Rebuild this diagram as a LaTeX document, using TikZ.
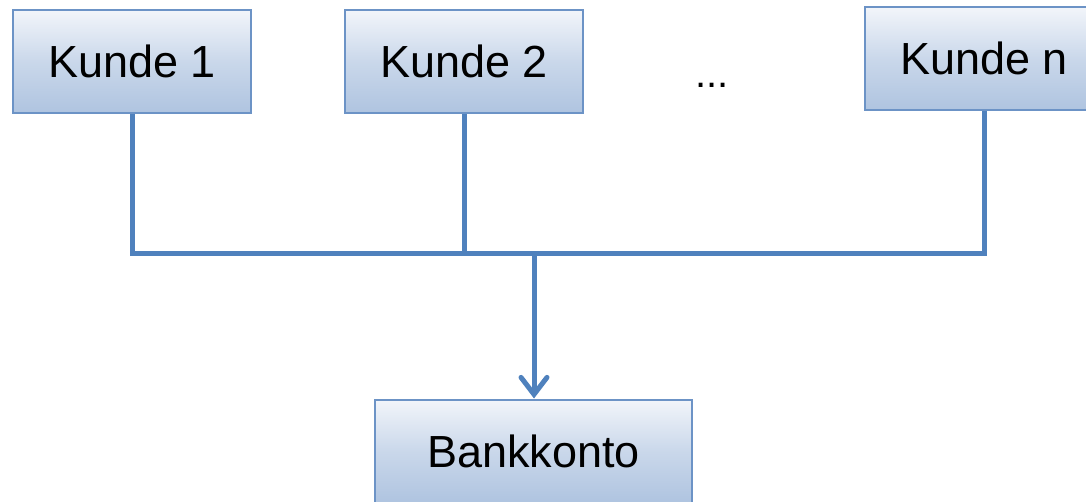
\documentclass[tikz,border=0pt]{standalone}
\usepackage{fontspec}
\setmainfont{Liberation Sans}
\usetikzlibrary{arrows.meta}
\definecolor{linkblue}{HTML}{4F81BD}
\definecolor{edgeblue}{HTML}{6C93C6}
\definecolor{boxtop}{HTML}{F2F5FA}
\definecolor{boxbottom}{HTML}{AFC4E0}
\tikzset{
  box/.style={draw=edgeblue, line width=2pt, minimum width=238pt, minimum height=103pt,
    top color=boxtop, bottom color=boxbottom, middle color=boxbottom!60!boxtop,
    shading angle=0, font=\fontsize{45}{54}\selectfont, inner sep=0pt},
  link/.style={draw=linkblue, line width=5pt},
}
\begin{document}
\begin{tikzpicture}[x=1pt,y=-1pt]
\useasboundingbox (0,0) rectangle (1086,501);
\clip (0,0) rectangle (1086,501);
\node[box] (k1) at (132,61.5) {Kunde 1};
\node[box] (k2) at (464,61.5) {Kunde 2};
\node[box] (kn) at (984,58.5) {Kunde n};
\node[box, minimum width=317pt] (bank) at (533.5,451) {Bankkonto};
\node[font=\fontsize{40}{48}\selectfont] (dots) at (712,85) {...};
\coordinate (j) at (534,253);
\draw[link] (k1.south) -- (k1.south |- j) -- (kn.south |- j) -- (kn.south);
\draw[link] (k2.south) -- (k2.south |- j);
\draw[link, -{Straight Barb[length=17pt,width=26pt,line cap=round]}] (j) -- (j |- bank.north);
\end{tikzpicture}
\end{document}
